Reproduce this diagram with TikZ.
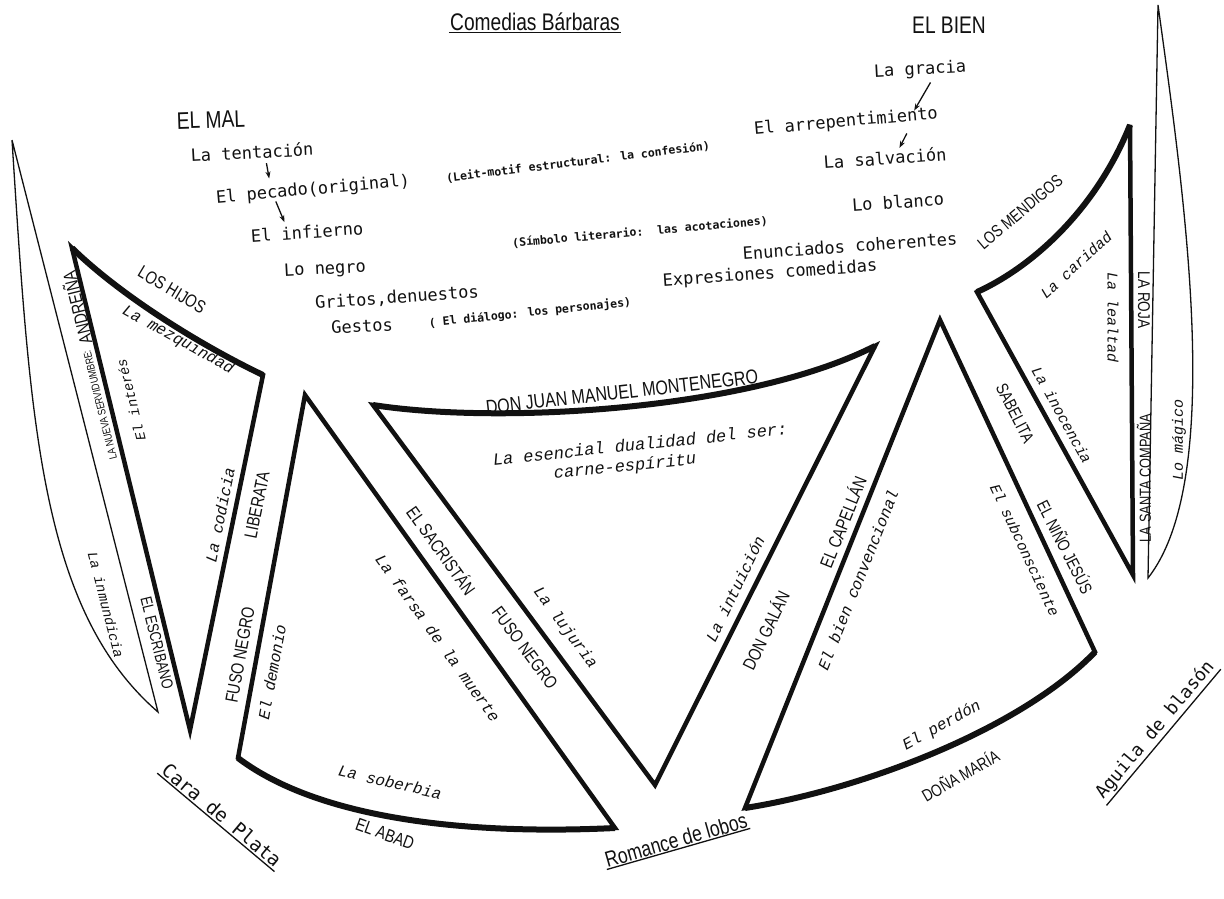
\documentclass[tikz,border=0pt]{standalone}
\usepackage{fontspec}
\setmainfont{Liberation Sans}
\newfontfamily\typefont{DejaVu Sans Mono}
\newfontfamily\italfont{Liberation Mono}
\newfontfamily\capsfont[FakeStretch=0.8]{Liberation Sans}
\usetikzlibrary{arrows.meta}
\definecolor{ink}{HTML}{111111}

\begin{document}
\begin{tikzpicture}[x=1pt,y=-1pt,
    edge/.style={draw=ink,line width=4.5pt,line join=miter,miter limit=5},
    rim/.style={draw=ink,line width=6pt},
    thinline/.style={draw=ink,line width=1.3pt},
    head/.style={font=\capsfont\fontsize{24}{26}\selectfont,text=ink,inner sep=1pt},
    role/.style={font=\capsfont\fontsize{18}{20}\selectfont,text=ink,inner sep=1pt},
    trait/.style={font=\italfont\itshape\fontsize{16}{18}\selectfont,text=ink,inner sep=1pt},
    typed/.style={font=\typefont\fontsize{17}{19}\selectfont,text=ink,inner sep=1pt},
    aside/.style={font=\typefont\bfseries\fontsize{11.5}{13}\selectfont,text=ink,inner sep=1pt},
    work/.style={font=\typefont\fontsize{19}{21}\selectfont,text=ink,inner sep=2pt},
    uline/.style={draw=ink,line width=1.3pt},
    arr/.style={-{Stealth[length=7pt,width=5pt]},draw=ink,line width=1.3pt}]
\useasboundingbox[fill=white] (0,0) rectangle (1224,899);

% corners of the shapes
\coordinate (leafT) at (12,140);
\coordinate (leafB) at (158,712);
\coordinate (hijL) at (72,248);
\coordinate (hijR) at (263,375);
\coordinate (hijB) at (190,730);
\coordinate (abadT) at (305,395);
\coordinate (abadL) at (238,758);
\coordinate (abadR) at (615,828);
\coordinate (donL) at (373,405);
\coordinate (donR) at (875,346);
\coordinate (donB) at (655,785);
\coordinate (mariaT) at (940,320);
\coordinate (mariaR) at (1095,652);
\coordinate (mariaL) at (745,808);
\coordinate (mendL) at (977,292);
\coordinate (mendT) at (1130,125);
\coordinate (mendB) at (1133,575);
\coordinate (rojaT) at (1158,5);
\coordinate (rojaB) at (1148,578);

% thin leaves
\draw[thinline] (leafT) -- (leafB) .. controls (40,610) and (30,420) .. (leafT);
\draw[thinline] (rojaT) -- (rojaB) .. controls (1225,480) and (1185,200) .. (rojaT);

% triangles
\draw[edge] (hijL) .. controls (120,295) and (200,345) .. (hijR) -- (hijB) -- cycle;
\draw[rim] (hijL) .. controls (120,295) and (200,345) .. (hijR);
\draw[edge] (abadT) -- (abadR) .. controls (470,835) and (320,820) .. (abadL) -- cycle;
\draw[rim] (abadL) .. controls (320,820) and (470,835) .. (abadR);
\draw[edge] (donL) .. controls (500,425) and (750,410) .. (donR) -- (donB) -- cycle;
\draw[rim] (donL) .. controls (500,425) and (750,410) .. (donR);
\draw[edge] (mariaT) -- (mariaR) .. controls (1020,730) and (860,790) .. (mariaL) -- cycle;
\draw[rim] (mariaL) .. controls (860,790) and (1020,730) .. (mariaR);
\draw[edge] (mendL) .. controls (1030,268) and (1095,212) .. (mendT) -- (mendB) -- cycle;
\draw[rim] (mendL) .. controls (1030,268) and (1095,212) .. (mendT);

% top text
\node[head] (title) at (535,22) {Comedias Bárbaras};
\draw[uline] (title.south west) -- (title.south east);
\node[head] (bien) at (949,25) {EL BIEN};
\node[head,rotate=2] (mal) at (211,120) {EL MAL};
\node[typed,rotate=3] (gracia) at (920,70) {La gracia};
\node[typed,rotate=5] (arrep) at (846,122) {El arrepentimiento};
\node[typed,rotate=4] (salv) at (885,158) {La salvación};
\node[typed,rotate=4] (blanco) at (898,202) {Lo blanco};
\node[aside,rotate=7] (leit) at (578,162) {(Leit-motif estructural: la confesión)};
\node[typed,rotate=3] (tent) at (252,152) {La tentación};
\node[typed,rotate=5] (pecado) at (313,190) {El pecado(original)};
\node[typed,rotate=4] (infierno) at (307,232) {El infierno};
\node[typed,rotate=3] (negro) at (325,270) {Lo negro};
\node[aside,rotate=5] (simbolo) at (640,232) {(Símbolo literario:\ \ las acotaciones)};
\node[typed,rotate=4] (enunc) at (850,246) {Enunciados coherentes};
\node[typed,rotate=4] (expres) at (770,274) {Expresiones comedidas};
\node[typed,rotate=4] (gritos) at (397,298) {Gritos,denuestos};
\node[typed,rotate=3] (gestos) at (362,326) {Gestos};
\node[aside,rotate=6] (dialogo) at (530,313) {( El diálogo: los personajes)};
\draw[arr] ([xshift=14pt,yshift=-3pt]tent.south) -- ([xshift=-43pt,yshift=2pt]pecado.north);
\draw[arr] ([xshift=-38pt,yshift=-2pt]pecado.south) -- ([xshift=-22pt,yshift=2pt]infierno.north);
\draw[arr] ([xshift=10pt,yshift=-3pt]gracia.south) -- ([xshift=69pt,yshift=2pt]arrep.north);
\draw[arr] ([xshift=60pt,yshift=-2pt]arrep.south) -- ([xshift=15pt,yshift=2pt]salv.north);

% left leaf and los hijos
\node[role,rotate=103.8] (andreina) at (76,308) {ANDREIÑA};
\node[role,font=\capsfont\fontsize{11}{12}\selectfont,rotate=103.8] (nueva) at (100,405) {LA NUEVA SERVIDUMBRE:};
\node[role,font=\capsfont\fontsize{16}{18}\selectfont,rotate=-76.2] (escribano) at (157,643) {EL ESCRIBANO};
\node[trait,font=\italfont\itshape\fontsize{14}{16}\selectfont,rotate=103.8] (interes) at (131,400) {El interés};
\node[trait,font=\italfont\itshape\fontsize{14}{16}\selectfont,rotate=-75.7] (inmund) at (106,605) {La inmundicia};
\node[role,rotate=-31] (hijos) at (172,290) {LOS HIJOS};
\node[trait,rotate=-29] (mezq) at (178,340) {La mezquindad};
\node[trait,rotate=78.5] (codicia) at (220,515) {La codicia};
\node[role,rotate=78.5] (liberata) at (257,505) {LIBERATA};

% el abad
\node[role,rotate=79.5] (fusoL) at (240,655) {FUSO NEGRO};
\node[trait,rotate=79.5] (demonio) at (272,672) {El demonio};
\node[trait,rotate=-13] (soberbia) at (390,782) {La soberbia};
\node[role,rotate=-20] (abad) at (385,834) {EL ABAD};
\node[role,rotate=-54.4] (sacristan) at (442,550) {EL SACRISTÁN};
\node[trait,rotate=-54.4] (farsa) at (438,638) {La farsa de la muerte};
\node[role,rotate=-53.4] (fusoR) at (525,648) {FUSO NEGRO};
\node[trait,rotate=-53.4] (lujuria) at (565,628) {La lujuria};

% don juan manuel
\node[role,font=\capsfont\fontsize{20}{22}\selectfont,rotate=6.5] (donjuan) at (622,392) {DON JUAN MANUEL MONTENEGRO};
\node[trait,font=\italfont\itshape\fontsize{17}{19}\selectfont,rotate=6] (esencial) at (640,444) {La esencial dualidad del ser:};
\node[trait,font=\italfont\itshape\fontsize{17}{19}\selectfont,rotate=6] (carne) at (625,467) {carne-espíritu};
\node[trait,rotate=64.2] (intuicion) at (735,589) {La intuición};
\node[role,rotate=64.2] (galan) at (765,630) {DON GALÁN};
\node[role,rotate=68.2] (capellan) at (842,522) {EL CAPELLÁN};
\node[trait,rotate=68.2] (bienconv) at (858,580) {El bien convencional};

% dona maria
\node[trait,font=\italfont\itshape\fontsize{15}{17}\selectfont,rotate=-65] (subcons) at (1025,550) {El subconsciente};
\node[role,font=\capsfont\fontsize{17}{19}\selectfont,rotate=-63] (sabelita) at (1015,413) {SABELITA};
\node[role,font=\capsfont\fontsize{17}{19}\selectfont,rotate=-63] (nino) at (1066,547) {EL NIÑO JESÚS};
\node[trait,rotate=29] (perdon) at (942,726) {El perdón};
\node[role,font=\capsfont\fontsize{17}{19}\selectfont,rotate=30] (maria) at (960,775) {DOÑA MARÍA};

% los mendigos
\node[trait,font=\italfont\itshape\fontsize{15}{17}\selectfont,rotate=-61] (inocencia) at (1062,415) {La inocencia};
\node[role,font=\capsfont\fontsize{17}{19}\selectfont,rotate=40] (mendigos) at (1020,212) {LOS MENDIGOS};
\node[trait,font=\italfont\itshape\fontsize{15}{17}\selectfont,rotate=42] (caridad) at (1076,265) {La caridad};
\node[trait,font=\italfont\itshape\fontsize{15}{17}\selectfont,rotate=-90] (lealtad) at (1113,318) {La lealtad};
\node[role,font=\capsfont\fontsize{17}{19}\selectfont,rotate=-90] (roja) at (1144,300) {LA ROJA};
\node[role,font=\capsfont\fontsize{16}{18}\selectfont,rotate=90] (compana) at (1144,478) {LA SANTA COMPAÑA};
\node[trait,font=\italfont\itshape\fontsize{15}{17}\selectfont,rotate=90] (magico) at (1179,440) {Lo mágico};

% the plays
\node[work,rotate=-40] (plata) at (222,815) {Cara de Plata};
\draw[uline] (plata.south west) -- (plata.south east);
\node[head,font=\capsfont\fontsize{22}{24}\selectfont,rotate=16] (lobos) at (676,840) {Romance de lobos};
\draw[uline] (lobos.south west) -- (lobos.south east);
\node[work,font=\typefont\fontsize{18}{20}\selectfont,rotate=50] (blason) at (1155,730) {Aguila de blasón};
\draw[uline] (blason.south west) -- (blason.south east);
\end{tikzpicture}
\end{document}
